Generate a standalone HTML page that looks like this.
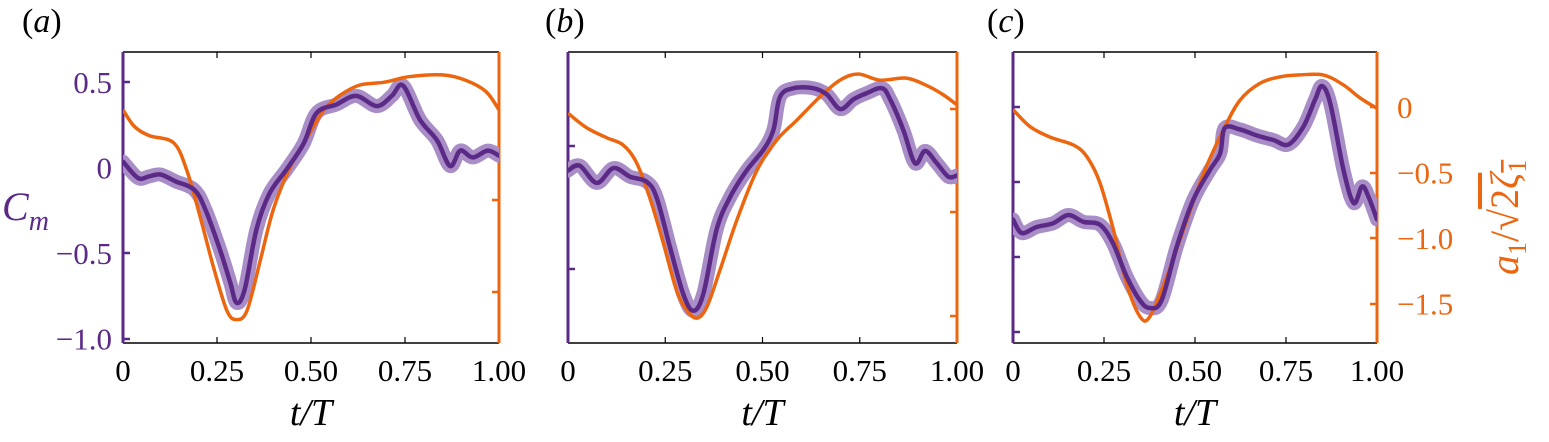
<!DOCTYPE html>
<html><head><meta charset="utf-8">
<style>
html,body{margin:0;padding:0;background:#fff;}
svg{display:block;}
svg text{font-family:"Liberation Serif","DejaVu Serif",serif;}
</style></head>
<body>
<svg id="fig" width="1549" height="442" viewBox="0 0 1549 442" font-family="Liberation Serif, DejaVu Serif, serif"></svg>
<script>
// Panel (a)
const tA_cm=[0,0.04,0.07,0.10,0.14,0.19,0.22,0.258,0.285,0.302,0.324,0.355,0.39,0.435,0.48,0.515,0.568,0.62,0.675,0.715,0.745,0.79,0.835,0.87,0.897,0.93,0.97,1.0];
const cmA=[0.035,-0.06,-0.05,-0.04,-0.08,-0.13,-0.25,-0.48,-0.67,-0.79,-0.71,-0.36,-0.15,-0.01,0.14,0.32,0.37,0.42,0.36,0.42,0.48,0.28,0.16,0.01,0.10,0.06,0.10,0.07];
const tA_a=[0,0.03,0.07,0.135,0.17,0.205,0.24,0.276,0.302,0.33,0.365,0.4,0.445,0.49,0.535,0.578,0.63,0.695,0.76,0.85,0.912,0.965,1.0];
const aA=[-0.01,-0.10,-0.15,-0.19,-0.34,-0.59,-0.86,-1.10,-1.15,-1.10,-0.83,-0.55,-0.32,-0.16,-0.01,0.07,0.125,0.14,0.17,0.18,0.15,0.09,-0.01];
// Panel (b)
const tB_cm=[0,0.03,0.074,0.117,0.16,0.202,0.228,0.262,0.296,0.322,0.348,0.382,0.416,0.459,0.502,0.528,0.545,0.58,0.63,0.665,0.7,0.734,0.768,0.807,0.828,0.862,0.892,0.918,0.948,0.978,1.0];
const cmB=[-0.10,-0.08,-0.15,-0.09,-0.125,-0.145,-0.21,-0.41,-0.60,-0.67,-0.60,-0.34,-0.21,-0.10,-0.016,0.065,0.20,0.235,0.235,0.21,0.15,0.19,0.215,0.235,0.19,0.065,-0.07,-0.02,-0.07,-0.125,-0.12];
const tB_a=[0,0.047,0.1,0.142,0.176,0.21,0.245,0.279,0.305,0.331,0.357,0.391,0.434,0.485,0.537,0.588,0.648,0.699,0.746,0.802,0.87,0.921,0.964,1.0];
const aB=[-0.02,-0.09,-0.14,-0.175,-0.26,-0.43,-0.65,-0.88,-0.975,-1.015,-0.96,-0.78,-0.54,-0.30,-0.15,-0.055,0.06,0.14,0.17,0.14,0.15,0.115,0.07,0.02];
// Panel (c)
const tC_cm=[0,0.024,0.065,0.11,0.152,0.193,0.239,0.275,0.312,0.349,0.376,0.408,0.45,0.495,0.541,0.569,0.582,0.624,0.67,0.715,0.757,0.798,0.83,0.849,0.872,0.908,0.936,0.959,0.977,1.0];
const cmC=[-0.25,-0.34,-0.30,-0.275,-0.22,-0.265,-0.285,-0.41,-0.63,-0.79,-0.84,-0.79,-0.43,-0.12,0.08,0.19,0.36,0.35,0.31,0.28,0.25,0.37,0.55,0.64,0.52,0.08,-0.14,-0.03,-0.10,-0.25];
const tC_a=[0,0.047,0.102,0.166,0.203,0.239,0.276,0.312,0.349,0.376,0.422,0.468,0.523,0.577,0.623,0.678,0.733,0.788,0.852,0.907,0.953,1.0];
const aC=[-0.02,-0.15,-0.23,-0.29,-0.38,-0.58,-0.94,-1.35,-1.60,-1.60,-1.30,-0.94,-0.51,-0.18,0.05,0.18,0.23,0.245,0.245,0.17,0.07,-0.01];
const xTicks=[0,0.25,0.5,0.75,1.0];
const xTickLabels=["0","0.25","0.50","0.75","1.00"];
const cmTicksA=[0.5,0,-0.5,-1.0];
const cmTickLabelsA=["0.5","0","\u22120.5","\u22121.0"];
const aTicksC=[0,-0.5,-1.0,-1.5];
const aTickLabelsC=["0","\u22120.5","\u22121.0","\u22121.5"];

const NS="http://www.w3.org/2000/svg";
const svg=document.getElementById('fig');
const PUR="#5b2a86", LPUR="#a98dc6", ORA="#ec6610";
const FF="Liberation Serif, DejaVu Serif, serif";
function mk(tag,attrs,parent){const e=document.createElementNS(NS,tag);for(const k in attrs)e.setAttribute(k,attrs[k]);if(tag==='text')e.setAttribute('font-family',FF);(parent||svg).appendChild(e);return e;}
function smooth(pts){let d="M"+pts[0][0].toFixed(1)+","+pts[0][1].toFixed(1);
 for(let i=0;i<pts.length-1;i++){const p0=pts[Math.max(0,i-1)],p1=pts[i],p2=pts[i+1],p3=pts[Math.min(pts.length-1,i+2)];
 const c1=[p1[0]+(p2[0]-p0[0])/6,p1[1]+(p2[1]-p0[1])/6],c2=[p2[0]-(p3[0]-p1[0])/6,p2[1]-(p3[1]-p1[1])/6];
 d+="C"+c1[0].toFixed(1)+","+c1[1].toFixed(1)+" "+c2[0].toFixed(1)+","+c2[1].toFixed(1)+" "+p2[0].toFixed(1)+","+p2[1].toFixed(1);}
 return d;}

const panels=[
 {id:'a',x0:123,x1:499,lx:22,tcm:tA_cm,cm:cmA,ta:tA_a,a:aA,cm0:167.7,cmS:171,a0:108,aS:184,lt:[82,168,253,339],rt:[200,292]},
 {id:'b',x0:568,x1:957,lx:545,tcm:tB_cm,cm:cmB,ta:tB_a,a:aB,cm0:146,cmS:246,a0:109,aS:206,lt:[146,269],rt:[109,212,316]},
 {id:'c',x0:1013,x1:1377,lx:987,tcm:tC_cm,cm:cmC,ta:tC_a,a:aC,cm0:182,cmS:150,a0:107,aS:131,lt:[107,182,257,332],rt:[107,173,238,304]}
];
const Y0=52,Y1=343;
const defs=mk('defs',{});
panels.forEach(p=>{
 const cp=mk('clipPath',{id:'clip-'+p.id},defs);
 mk('rect',{x:p.x0,y:Y0-10,width:p.x1-p.x0,height:Y1-Y0+20},cp);
 const g=mk('g',{});
 
 
 const xs=t=>p.x0+t*(p.x1-p.x0);
 const ycm=v=>p.cm0-v*p.cmS;
 const ya=v=>p.a0-v*p.aS;
 const top=mk('line',{x1:p.x0,y1:Y0,x2:p.x1,y2:Y0,stroke:'#000','stroke-width':1.5},g);
 
 const bot=mk('line',{x1:p.x0,y1:Y1,x2:p.x1,y2:Y1,stroke:'#000','stroke-width':1.5},g);
 
 xTicks.forEach((t,i)=>{
  mk('line',{x1:xs(t),y1:Y1,x2:xs(t),y2:Y1-6,stroke:'#000','stroke-width':1.2},g);
  mk('line',{x1:xs(t),y1:Y0,x2:xs(t),y2:Y0+6,stroke:'#000','stroke-width':1.2},g);
  const tl=mk('text',{x:xs(t),y:381,'font-size':31,'text-anchor':'middle',fill:'#000'},g);
  tl.textContent=xTickLabels[i];
  
 });
 const xl=mk('text',{x:(p.x0+p.x1)/2,y:425,'font-size':38,'font-style':'italic','text-anchor':'middle',fill:'#000'},g);
 xl.textContent='t/T';
 
 const ls=mk('line',{x1:p.x0,y1:Y0,x2:p.x0,y2:Y1,stroke:PUR,'stroke-width':3},g);
 
 const rs=mk('line',{x1:p.x1,y1:Y0,x2:p.x1,y2:Y1,stroke:ORA,'stroke-width':3},g);
 
 p.lt.forEach(y=>mk('line',{x1:p.x0,y1:y,x2:p.x0+7,y2:y,stroke:PUR,'stroke-width':2.5},g));
 p.rt.forEach(y=>mk('line',{x1:p.x1,y1:y,x2:p.x1-7,y2:y,stroke:ORA,'stroke-width':2.5},g));
 const sg=mk('g',{'clip-path':'url(#clip-'+p.id+')'},g);
 const cmPts=p.tcm.map((t,i)=>[xs(t),ycm(p.cm[i])]);
 const aPts=p.ta.map((t,i)=>[xs(t),ya(p.a[i])]);
 const band=mk('path',{d:smooth(cmPts),fill:'none',stroke:LPUR,'stroke-width':14,'stroke-linejoin':'round','stroke-linecap':'round'},sg);
 
 const ol=mk('path',{d:smooth(aPts),fill:'none',stroke:ORA,'stroke-width':3.5,'stroke-linejoin':'round'},sg);
 
 const pl=mk('path',{d:smooth(cmPts),fill:'none',stroke:PUR,'stroke-width':4.5,'stroke-linejoin':'round','stroke-linecap':'round'},sg);
 
 const lab=mk('text',{x:p.lx,y:32,'font-size':34,fill:'#000'},g);
 lab.innerHTML='(<tspan font-style="italic">'+p.id+'</tspan>)';
 
});
const pa=panels[0];
cmTicksA.forEach((v,i)=>{
 const t=mk('text',{x:112,y:pa.cm0-v*pa.cmS+11,'font-size':31,'text-anchor':'end',fill:PUR});
 t.textContent=cmTickLabelsA[i];
 
});
const cmT=mk('text',{x:2,y:220,'font-size':40,'font-style':'italic',fill:PUR});
cmT.innerHTML='C<tspan font-size="28" dy="10">m</tspan>';

const pc=panels[2];
aTicksC.forEach((v,i)=>{
 const t=mk('text',{x:1397,y:pc.a0-v*pc.aS+11,'font-size':31,'text-anchor':'start',fill:ORA});
 t.textContent=aTickLabelsC[i];
 
});
const aT=mk('text',{x:0,y:0,'font-size':40,fill:ORA,transform:'translate(1518,275) rotate(-90)'});
aT.innerHTML='<tspan font-style="italic">a</tspan><tspan font-size="26" dy="8">1</tspan><tspan dy="-8">/\u221A</tspan><tspan text-decoration="overline">2<tspan font-style="italic">\u03B6</tspan><tspan font-size="26" dy="8">1</tspan></tspan>';

</script>
</body></html>
